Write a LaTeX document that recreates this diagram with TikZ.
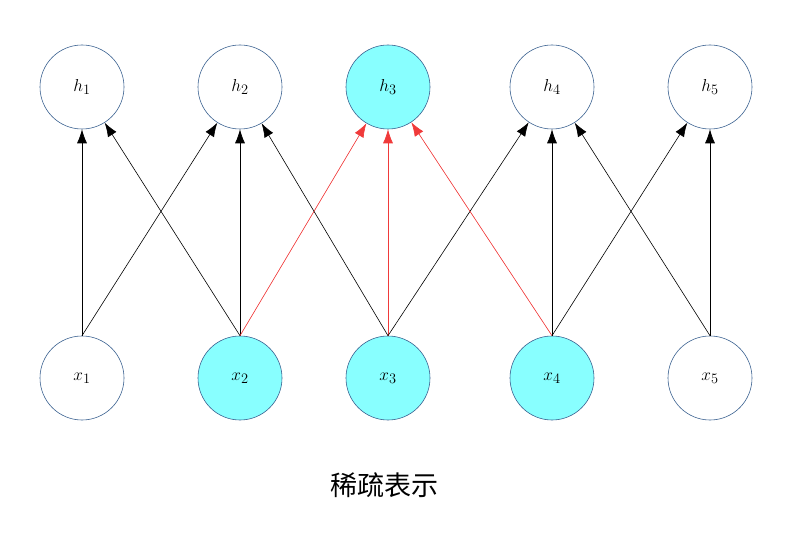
\documentclass[tikz,border=0pt]{standalone}
\usepackage{fontspec}
\newfontfamily\cjk{Noto Sans CJK SC}
\usetikzlibrary{arrows.meta}
\definecolor{ringblue}{HTML}{3A6190}
\definecolor{active}{HTML}{88FFFF}
\definecolor{hot}{HTML}{F03A3A}
\begin{document}
\begin{tikzpicture}[x=1pt,y=-1pt,
  unit/.style={circle,draw=ringblue,line width=0.6pt,minimum size=84pt,inner sep=0pt,font=\fontsize{19}{22}\selectfont},
  on/.style={unit,fill=active},
  link/.style={-{Latex[length=14pt,width=10pt]},line width=0.6pt},
  hotlink/.style={link,draw=hot,fill=hot}]
\useasboundingbox (0,0) rectangle (797,534);
\node[unit] (h1) at (82,87) {$h_1$};
\node[unit] (h2) at (240,87) {$h_2$};
\node[on] (h3) at (388,87) {$h_3$};
\node[unit] (h4) at (552,87) {$h_4$};
\node[unit] (h5) at (710,87) {$h_5$};
\node[unit] (x1) at (82,378) {$x_1$};
\node[on] (x2) at (240,378) {$x_2$};
\node[on] (x3) at (388,378) {$x_3$};
\node[on] (x4) at (552,378) {$x_4$};
\node[unit] (x5) at (710,378) {$x_5$};
% connectors
\draw[link] (x1.north) -- (h1);
\draw[link] (x1.north) -- (h2);
\draw[link] (x2.north) -- (h1);
\draw[link] (x2.north) -- (h2);
\draw[hotlink] (x2.north) -- (h3);
\draw[link] (x3.north) -- (h2);
\draw[hotlink] (x3.north) -- (h3);
\draw[link] (x3.north) -- (h4);
\draw[hotlink] (x4.north) -- (h3);
\draw[link] (x4.north) -- (h4);
\draw[link] (x4.north) -- (h5);
\draw[link] (x5.north) -- (h4);
\draw[link] (x5.north) -- (h5);
\node[font=\cjk\fontsize{27}{30}\selectfont] (title) at (384,485) {稀疏表示};
\end{tikzpicture}
\end{document}
